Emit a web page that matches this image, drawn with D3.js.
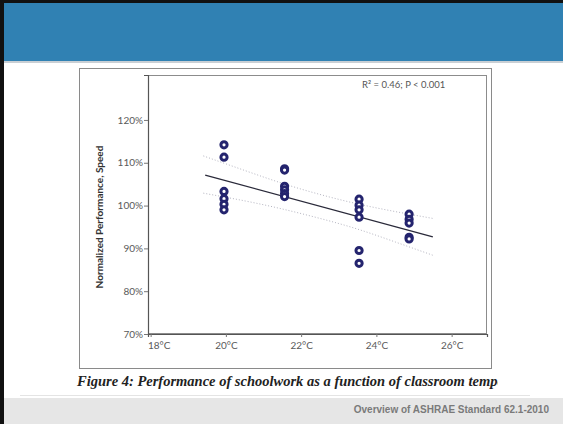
<!DOCTYPE html>
<html>
<head>
<meta charset="utf-8">
<script src="https://cdn.jsdelivr.net/npm/d3@7"></script>
<style>
  body { margin: 0; background: #fff; }
  svg { display: block; }
</style>
</head>
<body>
<svg id="chart" width="563" height="424"></svg>
<script>
(function() {
  // Data
  var pointTemp = [
    19.95, 19.95, 19.95, 19.95, 19.95, 19.95,
    21.56, 21.56, 21.56, 21.56, 21.56, 21.56,
    23.54, 23.54, 23.54, 23.54, 23.54, 23.54,
    24.87, 24.87, 24.87, 24.87, 24.87
  ];
  var pointPerf = [
    114.2, 111.3, 103.3, 101.6, 100.3, 99.0,
    108.6, 108.3, 104.5, 103.7, 102.8, 102.1,
    101.5, 100.1, 99.0, 97.3, 89.5, 86.5,
    98.0, 96.8, 95.9, 92.6, 92.2
  ];
  var fitTemp = [19.45, 25.5];
  var fitPerf = [107.1, 92.7];
  var bandTemp = [19.4, 20.5, 21.5, 22.5, 23.5, 24.5, 25.5];
  var bandUpper = [111.6, 108.2, 105.2, 102.6, 100.4, 98.6, 97.0];
  var bandLower = [102.9, 101.1, 99.2, 97.0, 94.5, 91.5, 88.4];
  var xTicks = [18, 20, 22, 24, 26];
  var yTicks = [70, 80, 90, 100, 110, 120];

  var svg = d3.select("#chart");
  var W = 563, H = 424;

  // Slide frame
  svg.append("rect").attr("x", 0).attr("y", 0).attr("width", W).attr("height", H).attr("fill", "#fff");
  svg.append("rect").attr("x", 0).attr("y", 3).attr("width", W).attr("height", 58).attr("fill", "#3081b3");
  svg.append("rect").attr("x", 0).attr("y", 61).attr("width", W).attr("height", 2).attr("fill", "#c9cfd4");
  svg.append("rect").attr("x", 0).attr("y", 0).attr("width", W).attr("height", 3).attr("fill", "#111");
  svg.append("rect").attr("x", 0).attr("y", 0).attr("width", 4).attr("height", H).attr("fill", "#111");

  // Figure box
  svg.append("rect")
    .attr("x", 79.5).attr("y", 68.5).attr("width", 412).attr("height", 300)
    .attr("fill", "none").attr("stroke", "#8a8a8a").attr("stroke-width", 1);

  var x = d3.scaleLinear().domain([17.93, 26.94]).range([148, 487]);
  var y = d3.scaleLinear().domain([70, 130.5]).range([334, 75]);

  // Plot frame
  svg.append("rect")
    .attr("x", 148.5).attr("y", 75.5).attr("width", 338).attr("height", 258)
    .attr("fill", "none").attr("stroke", "#8c8c8c").attr("stroke-width", 1);

  // Axes
  var xAxis = d3.axisBottom(x).tickValues(xTicks).tickSize(3).tickPadding(5)
    .tickFormat(function(d) { return d + "\u00B0C"; });
  var yAxis = d3.axisLeft(y).tickValues(yTicks).tickSize(4).tickPadding(1)
    .tickFormat(function(d) { return d + "%"; });

  var gx = svg.append("g").attr("transform", "translate(0,334)").call(xAxis);
  var gy = svg.append("g").attr("transform", "translate(148,0)").call(yAxis);
  [gx, gy].forEach(function(g) {
    g.select(".domain").attr("stroke", "#555").attr("stroke-width", 1.2);
    g.selectAll(".tick line").attr("stroke", "#777");
    g.selectAll(".tick text")
      .attr("fill", "#5a5a5a")
      .attr("font-family", "Lato, 'DejaVu Sans', sans-serif")
      .attr("font-size", "10px");
  });
  // first x label sits right of its tick
  gx.selectAll(".tick text").filter(function(d) { return d === 18; }).attr("dx", 8);

  // Y label
  svg.append("text")
    .attr("transform", "translate(103,217) rotate(-90)")
    .attr("text-anchor", "middle")
    .attr("font-family", "Lato, 'Liberation Sans', sans-serif")
    .attr("font-weight", "bold")
    .attr("font-size", "10px")
    .attr("fill", "#333")
    .text("Normalized Performance, Speed");

  // R2 note
  svg.append("text")
    .attr("x", 362).attr("y", 88)
    .attr("font-family", "Lato, 'DejaVu Sans', sans-serif")
    .attr("font-size", "9.5px")
    .attr("fill", "#555")
    .text("R\u00B2 = 0.46; P < 0.001");

  // Confidence bands
  var band = d3.line()
    .x(function(d) { return x(d[0]); })
    .y(function(d) { return y(d[1]); })
    .curve(d3.curveNatural);
  [bandUpper, bandLower].forEach(function(vals) {
    svg.append("path")
      .datum(d3.zip(bandTemp, vals))
      .attr("d", band)
      .attr("fill", "none")
      .attr("stroke", "#b4b4c0")
      .attr("stroke-width", 1)
      .attr("stroke-dasharray", "1,2");
  });

  // Fit line
  svg.append("path")
    .datum(d3.zip(fitTemp, fitPerf))
    .attr("d", band)
    .attr("fill", "none")
    .attr("stroke", "#2a2a3a")
    .attr("stroke-width", 1.3);

  // Points
  svg.append("g").selectAll("circle")
    .data(d3.zip(pointTemp, pointPerf))
    .enter().append("circle")
    .attr("cx", function(d) { return x(d[0]); })
    .attr("cy", function(d) { return y(d[1]); })
    .attr("r", 3.1)
    .attr("fill", "#fff")
    .attr("stroke", "#24246e")
    .attr("stroke-width", 3);

  // Caption
  svg.append("clipPath").attr("id", "capclip")
    .append("rect").attr("x", 0).attr("y", 360).attr("width", 498).attr("height", 40);
  svg.append("text")
    .attr("clip-path", "url(#capclip)")
    .attr("x", 77).attr("y", 386)
    .attr("font-family", "'Liberation Serif', 'DejaVu Serif', serif")
    .attr("font-style", "italic")
    .attr("font-weight", "bold")
    .attr("font-size", "14.5px")
    .attr("fill", "#222")
    .text("Figure 4: Performance of schoolwork as a function of classroom temperature");

  // Footer
  svg.append("line")
    .attr("x1", 20).attr("x2", 530).attr("y1", 395.5).attr("y2", 395.5)
    .attr("stroke", "#e4e4e4").attr("stroke-width", 1);
  svg.append("rect").attr("x", 4).attr("y", 398).attr("width", W - 4).attr("height", H - 398).attr("fill", "#e6e6e6");
  svg.append("text")
    .attr("x", 549).attr("y", 413)
    .attr("text-anchor", "end")
    .attr("font-family", "'Liberation Sans', Arial, sans-serif")
    .attr("font-weight", "bold")
    .attr("font-size", "10px")
    .attr("fill", "#7a7a7a")
    .text("Overview of ASHRAE Standard 62.1-2010");
}());
</script>
</body>
</html>
